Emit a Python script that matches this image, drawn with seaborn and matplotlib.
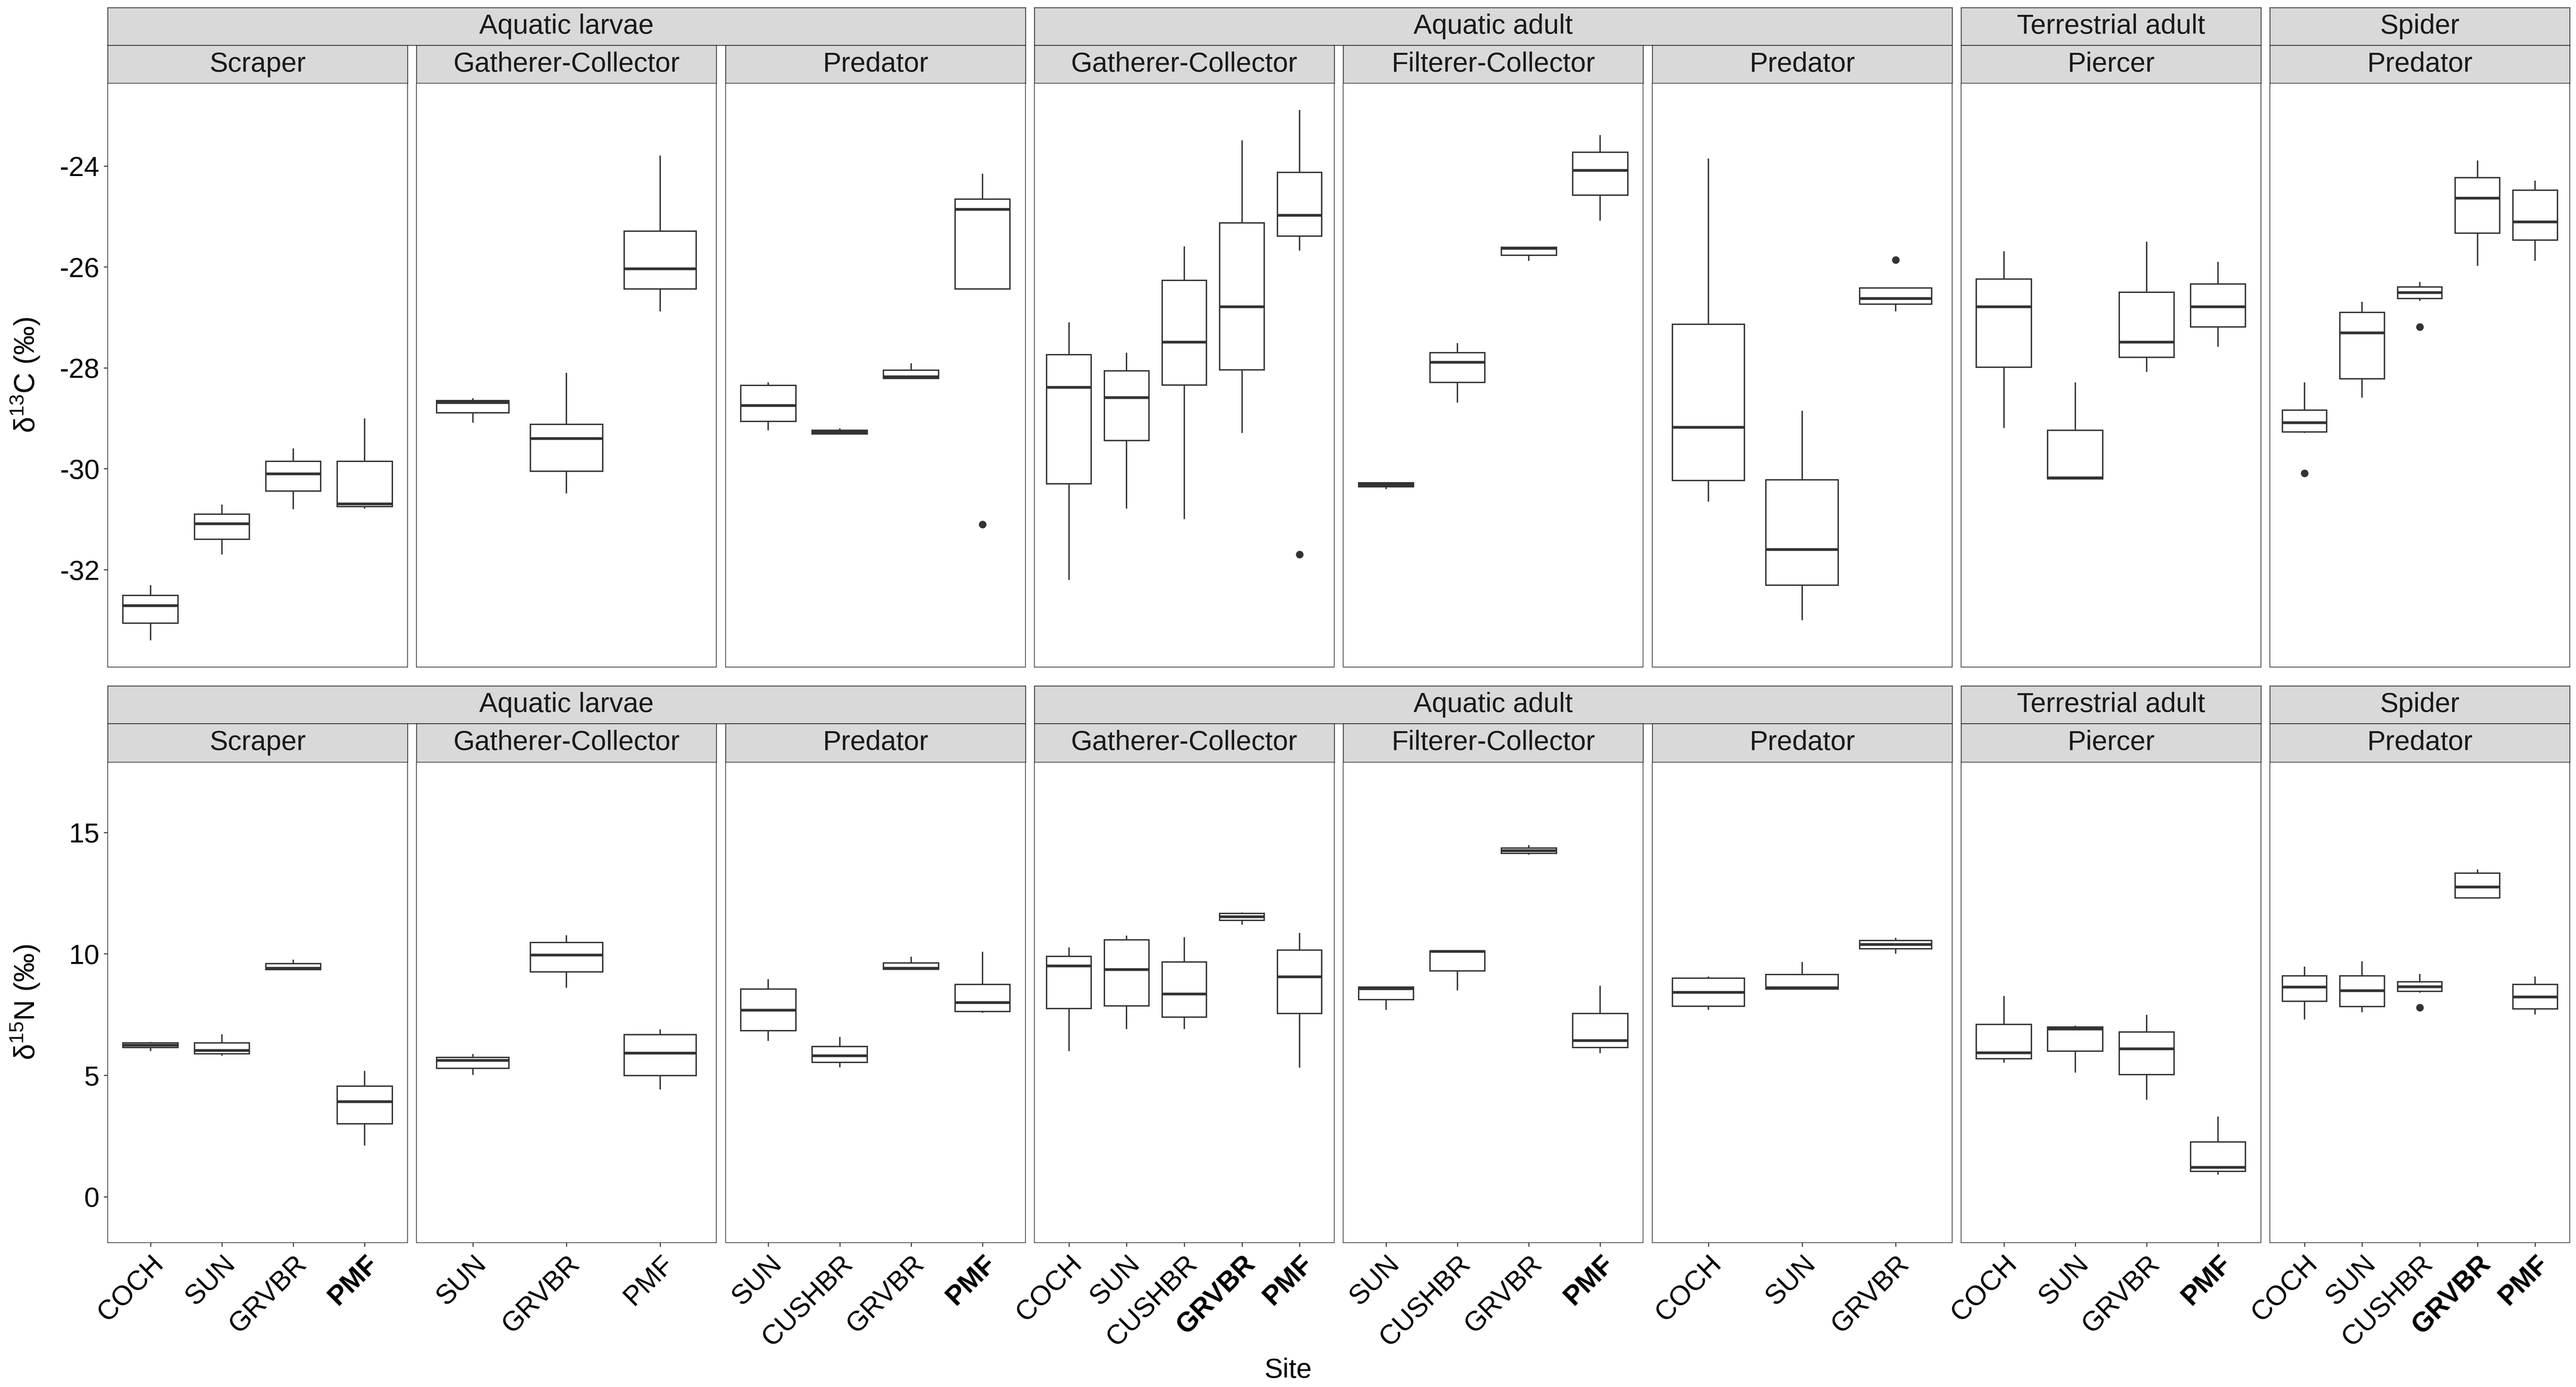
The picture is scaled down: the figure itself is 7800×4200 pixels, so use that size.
import numpy as np
import pandas as pd
import matplotlib
matplotlib.use("Agg")
import matplotlib.pyplot as plt
import seaborn as sns

# facet structure
group_names = ["Aquatic larvae", "Aquatic adult", "Terrestrial adult", "Spider"]
group_spans = [3, 3, 1, 1]
feeding_groups = ["Scraper", "Gatherer-Collector", "Predator",
                  "Gatherer-Collector", "Filterer-Collector", "Predator",
                  "Piercer", "Predator"]
panel_sites = [
    ["COCH", "SUN", "GRVBR", "PMF"],
    ["SUN", "GRVBR", "PMF"],
    ["SUN", "CUSHBR", "GRVBR", "PMF"],
    ["COCH", "SUN", "CUSHBR", "GRVBR", "PMF"],
    ["SUN", "CUSHBR", "GRVBR", "PMF"],
    ["COCH", "SUN", "GRVBR"],
    ["COCH", "SUN", "GRVBR", "PMF"],
    ["COCH", "SUN", "CUSHBR", "GRVBR", "PMF"],
]
bold_sites = [["PMF"], [], ["PMF"], ["GRVBR", "PMF"], ["PMF"], [], ["PMF"], ["GRVBR", "PMF"]]

d13c = [
    [[-33.40, -33.06, -32.71, -32.51, -32.31],
     [-31.70, -31.40, -31.09, -30.90, -30.71],
     [-30.80, -30.44, -30.10, -29.85, -29.60],
     [-30.79, -30.75, -30.70, -29.85, -29.00]],
    [[-29.09, -28.89, -28.69, -28.65, -28.60],
     [-30.49, -30.05, -29.40, -29.12, -28.10],
     [-26.88, -26.44, -26.04, -25.29, -23.79]],
    [[-29.24, -29.06, -28.75, -28.35, -28.29],
     [-29.32, -29.31, -29.28, -29.24, -29.20],
     [-28.21, -28.21, -28.18, -28.05, -27.91],
     [-31.10, -26.44, -26.44, -26.44, -24.86, -24.66, -24.66, -24.15, -24.15]],
    [[-32.20, -30.30, -28.39, -27.74, -27.10],
     [-30.79, -29.44, -28.59, -28.06, -27.70],
     [-31.00, -28.34, -27.49, -26.27, -25.59],
     [-29.29, -28.04, -26.79, -25.13, -23.49],
     [-31.70, -25.68, -25.39, -25.39, -24.98, -24.13, -24.13, -22.89, -22.89]],
    [[-30.40, -30.36, -30.32, -30.28, -30.28],
     [-28.69, -28.29, -27.89, -27.70, -27.51],
     [-25.88, -25.77, -25.63, -25.61, -25.60],
     [-25.08, -24.58, -24.09, -23.73, -23.39]],
    [[-30.65, -30.23, -29.18, -27.14, -23.85],
     [-33.00, -32.31, -31.60, -30.22, -28.85],
     [-26.88, -26.88, -26.74, -26.74, -26.63, -26.42, -26.42, -26.42, -25.86]],
    [[-29.19, -27.99, -26.79, -26.24, -25.69],
     [-30.20, -30.20, -30.18, -29.24, -28.29],
     [-28.08, -27.79, -27.49, -26.50, -25.50],
     [-27.58, -27.19, -26.79, -26.34, -25.90]],
    [[-30.09, -29.29, -29.27, -29.27, -29.09, -28.84, -28.84, -28.29, -28.29],
     [-28.59, -28.22, -27.31, -26.90, -26.69],
     [-27.19, -26.67, -26.63, -26.63, -26.51, -26.40, -26.40, -26.30, -26.30],
     [-25.98, -25.33, -24.64, -24.23, -23.89],
     [-25.88, -25.47, -25.11, -24.48, -24.29]],
]
d15n = [
    [[6.00, 6.15, 6.24, 6.34, 6.37],
     [5.81, 5.89, 6.02, 6.34, 6.69],
     [9.35, 9.35, 9.41, 9.60, 9.76],
     [2.11, 3.00, 3.91, 4.55, 5.18]],
    [[5.01, 5.29, 5.61, 5.74, 5.87],
     [8.61, 9.26, 9.95, 10.47, 10.77],
     [4.42, 4.99, 5.91, 6.67, 6.89]],
    [[6.41, 6.84, 7.68, 8.55, 8.96],
     [5.33, 5.53, 5.81, 6.19, 6.58],
     [9.37, 9.37, 9.41, 9.63, 9.88],
     [7.57, 7.62, 8.00, 8.74, 10.08]],
    [[6.00, 7.75, 9.50, 9.89, 10.27],
     [6.91, 7.86, 9.35, 10.57, 10.75],
     [6.91, 7.40, 8.35, 9.67, 10.68],
     [11.20, 11.38, 11.53, 11.66, 11.70],
     [5.31, 7.55, 9.06, 10.16, 10.86]],
    [[7.70, 8.12, 8.57, 8.63, 8.63],
     [8.50, 9.30, 10.10, 10.12, 10.14],
     [14.09, 14.14, 14.24, 14.35, 14.48],
     [5.91, 6.15, 6.43, 7.55, 8.68]],
    [[7.70, 7.85, 8.42, 9.00, 9.07],
     [8.55, 8.55, 8.61, 9.15, 9.67],
     [10.00, 10.21, 10.38, 10.55, 10.66]],
    [[5.52, 5.68, 5.93, 7.10, 8.27],
     [5.11, 6.00, 6.91, 6.99, 7.04],
     [4.00, 5.03, 6.09, 6.78, 7.49],
     [0.91, 1.04, 1.21, 2.25, 3.30]],
    [[7.30, 8.05, 8.63, 9.09, 9.48],
     [7.60, 7.83, 8.48, 9.09, 9.69],
     [7.79, 8.40, 8.46, 8.46, 8.65, 8.85, 8.85, 9.17, 9.17],
     [12.30, 12.30, 12.75, 13.32, 13.47],
     [7.51, 7.73, 8.22, 8.74, 9.07]],
]

y_titles = [r"δ$^{13}$C (‰)", r"δ$^{15}$N (‰)"]
y_ticks = [[-32, -30, -28, -26, -24], [0, 5, 10, 15]]
y_limits = [(-33.93, -22.36), (-1.89, 17.89)]

rows = []
for iso, values in (("d13C", d13c), ("d15N", d15n)):
    for p, (sites, boxes) in enumerate(zip(panel_sites, values)):
        for site, obs in zip(sites, boxes):
            for v in obs:
                rows.append({"isotope": iso, "panel": p, "site": site, "value": v})
df = pd.DataFrame(rows)

sns.set_theme(style="white")
plt.rcParams["font.family"] = ["Liberation Sans", "DejaVu Sans"]
plt.rcParams["axes.unicode_minus"] = False
plt.rcParams["mathtext.fontset"] = "custom"
plt.rcParams["mathtext.rm"] = "Liberation Sans"
plt.rcParams["mathtext.default"] = "regular"

W, H = 7800, 4200
fig = plt.figure(figsize=(26, 14), dpi=300)


def fbox(x0, y0, x1, y1):
    # pixel box (y measured from the top) -> figure fraction rect
    return [x0 / W, 1 - y1 / H, (x1 - x0) / W, (y1 - y0) / H]


left0, step, pw = 326, 935.3, 908
row_pos = [(23, 137, 252, 2020), (2077, 2191, 2308, 3763)]
dark = "#333333"
fs = 20


def strip(x0, y0, x1, y1, label):
    s = fig.add_axes(fbox(x0, y0, x1, y1))
    s.set_facecolor("#D9D9D9")
    s.set_xticks([])
    s.set_yticks([])
    for sp in s.spines.values():
        sp.set_color(dark)
        sp.set_linewidth(0.6)
    s.text(0.5, 0.5, label, ha="center", va="center", fontsize=fs,
           color="#1A1A1A", transform=s.transAxes)


for r, iso in enumerate(["d13C", "d15N"]):
    gtop, gbot, ptop, pbot = row_pos[r]
    start = 0
    for gname, span in zip(group_names, group_spans):
        x0 = left0 + start * step
        x1 = left0 + (start + span - 1) * step + pw
        strip(x0, gtop, x1, gbot, gname)
        start += span

    for p, sites in enumerate(panel_sites):
        x0 = left0 + p * step
        strip(x0, gbot, x0 + pw, ptop, feeding_groups[p])
        ax = fig.add_axes(fbox(x0, ptop, x0 + pw, pbot))
        sub = df[(df["isotope"] == iso) & (df["panel"] == p)]
        sns.boxplot(data=sub, x="site", y="value", order=sites, ax=ax,
                    width=0.77, color="white", linecolor=dark, linewidth=1.0,
                    saturation=1,
                    medianprops=dict(linewidth=2.0, color=dark),
                    capprops=dict(linewidth=0),
                    flierprops=dict(marker="o", markersize=4.5,
                                    markerfacecolor=dark, markeredgecolor=dark))
        ax.set_facecolor("white")
        ax.set_xlim(-0.6, len(sites) - 0.4)
        ax.set_ylim(*y_limits[r])
        ax.set_yticks(y_ticks[r])
        ax.set_xlabel("")
        ax.set_ylabel("")
        for sp in ax.spines.values():
            sp.set_color(dark)
            sp.set_linewidth(0.5)
        ax.tick_params(axis="y", left=(p == 0), labelleft=(p == 0), length=2.9,
                       width=0.7, color=dark, labelsize=fs, pad=3, labelcolor="black")
        if r == 0:
            ax.tick_params(axis="x", bottom=False, labelbottom=False)
        else:
            ax.tick_params(axis="x", bottom=True, length=2.9, width=0.7, color=dark,
                           labelsize=fs, pad=3, labelcolor="black")
            ax.set_xticks(range(len(sites)))
            ax.set_xticklabels(sites, rotation=45, ha="right", va="top",
                               rotation_mode="anchor")
            for lab in ax.get_xticklabels():
                if lab.get_text() in bold_sites[p]:
                    lab.set_fontweight("bold")

    fig.text(77 / W, 1 - (ptop + pbot) / 2 / H, y_titles[r], rotation=90,
             ha="center", va="center", fontsize=21, color="black")

fig.text(0.5, 1 - 4150 / H, "Site", ha="center", va="center", fontsize=fs, color="black")

fig.savefig("out.png", dpi=300, facecolor="white")
